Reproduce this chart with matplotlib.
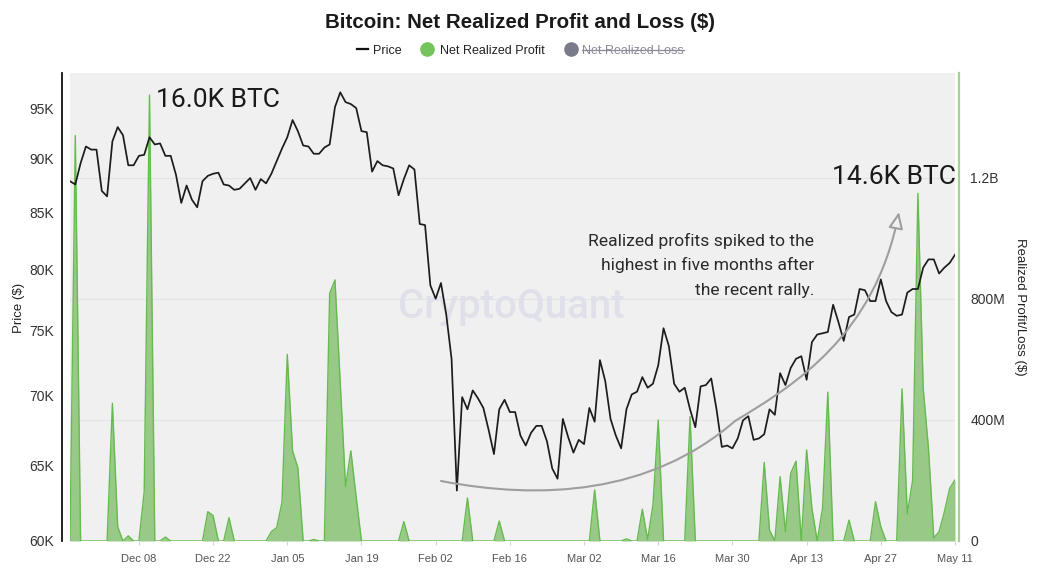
import numpy as np
import pandas as pd
import matplotlib
matplotlib.use("Agg")
import matplotlib.pyplot as plt
import matplotlib.dates as mdates
from matplotlib.path import Path
from matplotlib.patches import FancyArrowPatch
from matplotlib.lines import Line2D
from matplotlib.ticker import FixedLocator, FixedFormatter, NullLocator

plt.rcParams["font.family"] = ["Liberation Sans", "DejaVu Sans"]

# ---- data ----
dates = pd.date_range("2025-11-25", "2026-05-11", freq="D")

price_k = [
    87.9, 87.6, 89.6, 91.2, 90.9, 90.9, 87.0, 86.5, 91.7, 93.1, 92.3, 89.4, 89.4, 90.3,
    90.4, 92.1, 91.4, 91.5, 90.3, 90.3, 88.5, 85.9, 87.5, 86.2, 85.5, 87.9, 88.4, 88.6,
    88.7, 87.6, 87.5, 87.1, 87.2, 87.7, 88.2, 87.1, 88.1, 87.7, 88.6, 89.8, 91.0, 92.1,
    93.8, 92.7, 91.3, 91.2, 90.5, 90.5, 91.1, 91.4, 95.1, 96.6, 95.6, 95.4, 95.0, 92.7,
    92.6, 88.8, 89.8, 89.4, 89.3, 89.1, 86.6, 88.1, 89.4, 89.0, 84.0, 83.9, 78.7, 77.6,
    78.9, 76.3, 72.8, 63.3, 69.9, 69.0, 70.4, 69.8, 69.1, 67.5, 65.8, 69.0, 69.7, 68.8,
    68.8, 67.1, 66.4, 67.3, 67.8, 67.8, 66.7, 64.8, 64.1, 68.3, 67.0, 65.9, 66.8, 66.5,
    69.1, 68.1, 72.7, 71.1, 68.3, 67.1, 66.2, 69.0, 70.1, 70.3, 71.4, 70.6, 70.9, 72.3,
    75.2, 73.8, 70.9, 70.3, 70.6, 69.0, 67.7, 70.7, 70.8, 71.3, 69.0, 66.3, 66.4, 66.2,
    66.9, 68.2, 68.5, 66.8, 66.9, 67.2, 69.0, 68.6, 71.7, 70.8, 72.1, 72.8, 73.0, 71.2,
    74.1, 74.7, 74.8, 74.9, 77.1, 75.7, 74.2, 76.1, 76.3, 78.4, 78.3, 77.4, 77.4, 79.2,
    77.4, 76.5, 76.2, 76.3, 78.1, 78.4, 78.4, 80.2, 80.9, 80.9, 79.7, 80.2, 80.6, 81.3,
]

profit_m = [
    0, 1340, 0, 0, 0, 0, 0, 0, 455, 47, 0, 17, 0, 0,
    163, 1474, 0, 0, 13, 0, 0, 0, 0, 0, 0, 0, 97, 84,
    0, 0, 77, 0, 0, 0, 0, 0, 0, 0, 31, 44, 128, 617,
    298, 242, 0, 0, 5, 0, 0, 819, 863, 522, 180, 298, 146, 0,
    0, 0, 0, 0, 0, 0, 0, 64, 0, 0, 0, 0, 0, 0,
    0, 0, 0, 0, 0, 142, 0, 0, 0, 0, 0, 66, 0, 0,
    0, 0, 0, 0, 0, 0, 0, 0, 0, 0, 0, 0, 0, 0,
    0, 169, 0, 0, 0, 0, 0, 7, 0, 0, 105, 5, 119, 400,
    0, 0, 0, 0, 0, 411, 0, 0, 0, 0, 0, 0, 0, 0,
    0, 0, 0, 0, 0, 260, 36, 0, 213, 31, 224, 264, 0, 301,
    108, 0, 108, 492, 0, 0, 0, 69, 0, 0, 0, 0, 130, 47,
    0, 0, 0, 503, 90, 200, 1149, 505, 305, 10, 31, 97, 174, 202,
]

price_ticks = [60000, 65000, 70000, 75000, 80000, 85000, 90000, 95000]
price_labels = ["60K", "65K", "70K", "75K", "80K", "85K", "90K", "95K"]
pl_ticks = [0, 400e6, 800e6, 1200e6]
pl_labels = ["0", "400M", "800M", "1.2B"]
x_ticks = pd.date_range("2025-12-08", "2026-05-11", freq="14D")

title = "Bitcoin: Net Realized Profit and Loss ($)"
note_lines = ["Realized profits spiked to the",
              "highest in five months after",
              "the recent rally."]

price = np.array(price_k) * 1000
profit = np.array(profit_m) * 1e6

# ---- layout (pixels) ----
W, H = 1038, 571
L, R, T, B = 70, 955, 73, 541
def fx(x): return x / W
def fy(y): return 1 - y / H

fig = plt.figure(figsize=(W / 100, H / 100), dpi=100)
ax = fig.add_axes([fx(L), fy(B), (R - L) / W, (B - T) / H])
ax2 = ax.twinx()
ax.set_zorder(2)
ax2.set_zorder(1)
ax.patch.set_visible(False)
ax2.patch.set_visible(True)
ax2.patch.set_facecolor("#f0f0f0")

# profit area
ax2.fill_between(dates, profit, 0, color="#98c987", lw=0, zorder=2)
ax2.plot(dates, profit, color="#66bb4f", lw=1.0, zorder=3)
ax2.set_ylim(0, 1.547e9)
ax2.yaxis.set_major_locator(FixedLocator(pl_ticks))
ax2.yaxis.set_major_formatter(FixedFormatter(pl_labels))
ax2.grid(axis="y", color="#e3e3e3", lw=0.8)
ax2.set_axisbelow(True)
ax2.tick_params(axis="y", length=0, pad=8, labelsize=10, labelcolor="#333333")
for s in ["top", "bottom", "left"]:
    ax2.spines[s].set_visible(False)
ax2.spines["right"].set_position(("outward", 3))
ax2.spines["right"].set_color("#9fd68c")
ax2.spines["right"].set_linewidth(1.6)

# watermark
ax2.text(0.499, 0.4765, "CryptoQuant", transform=ax2.transAxes, ha="center",
         va="baseline", fontsize=29, family=["Roboto", "DejaVu Sans"],
         weight="medium", color="#e0e0ea", zorder=1)

# price line
ax.plot(dates, price, color="#1c1c1c", lw=1.25)
ax.set_yscale("log")
ax.set_ylim(60000, 98600)
ax.yaxis.set_major_locator(FixedLocator(price_ticks))
ax.yaxis.set_major_formatter(FixedFormatter(price_labels))
ax.yaxis.set_minor_locator(NullLocator())
ax.tick_params(axis="y", length=0, pad=5.5, labelsize=10, labelcolor="#333333")
ax.set_xlim(dates[0], dates[-1])
ax.set_xticks(x_ticks)
ax.xaxis.set_major_formatter(mdates.DateFormatter("%b %d"))
ax.tick_params(axis="x", length=3, color="#d4d4d4", pad=6, labelsize=8,
               labelcolor="#555555")
for s in ["top", "right", "bottom"]:
    ax.spines[s].set_visible(False)
ax.spines["left"].set_position(("outward", 6))
ax.spines["left"].set_color("#111111")
ax.spines["left"].set_linewidth(1.3)

# curved arrow (axes fraction)
verts = [(0.4192, 0.1282), (0.5311, 0.0876), (0.6554, 0.0983), (0.7514, 0.2564),
         (0.8192, 0.3333), (0.9096, 0.4402), (0.9367, 0.7030)]
codes = [Path.MOVETO] + [Path.CURVE4] * 6
arrow = FancyArrowPatch(path=Path(verts, codes), transform=ax.transAxes,
                        arrowstyle="-|>,head_length=0.5,head_width=0.22",
                        mutation_scale=20, lw=1.5, ec="#9e9e9e", fc="#f0f0f0",
                        zorder=4)
ax.add_patch(arrow)

# texts
roboto = ["Roboto", "DejaVu Sans"]
fig.text(fx(520), fy(28), title, ha="center", va="baseline", fontsize=14.8,
         weight="bold", color="#1a1a1a")
fig.text(fx(156), fy(107), "16.0K BTC", ha="left", va="baseline", fontsize=19,
         family=roboto, weight="normal", color="#1a1a1a")
fig.text(fx(832), fy(184), "14.6K BTC", ha="left", va="baseline", fontsize=19,
         family=roboto, weight="normal", color="#1a1a1a")
for k, line in enumerate(note_lines):
    fig.text(fx(814), fy(245.7 + 24.6 * k), line, ha="right", va="baseline",
             fontsize=12.6, family=roboto, weight="normal", color="#2a2a2a")

fig.text(fx(19), fy(308), "Price ($)", rotation=90, ha="center", va="center",
         fontsize=9.5, color="#222222")
fig.text(fx(1020), fy(307), "Realized Profit/Loss ($)", rotation=270,
         ha="center", va="center", fontsize=9.5, color="#222222")

# legend (manual, to allow the struck-through entry)
ly = fy(49)
fig.add_artist(Line2D([fx(357), fx(368)], [ly, ly], color="#111111", lw=1.6))
fig.text(fx(373), fy(53.5), "Price", ha="left", va="baseline", fontsize=9,
         color="#222222")
fig.add_artist(Line2D([fx(427)], [ly], marker="o", ms=9.5, color="#74c45e", lw=0))
fig.text(fx(440), fy(53.5), "Net Realized Profit", ha="left", va="baseline",
         fontsize=9, color="#222222")
fig.add_artist(Line2D([fx(571)], [ly], marker="o", ms=9.5, color="#7a7b8a", lw=0))
loss = fig.text(fx(582), fy(53.5), "Net Realized Loss", ha="left", va="baseline",
                fontsize=9, color="#8c8c98")
fig.canvas.draw()
bb = loss.get_window_extent().transformed(fig.transFigure.inverted())
fig.add_artist(Line2D([bb.x0, bb.x1], [fy(49.5), fy(49.5)], color="#8c8c98", lw=0.9))

fig.savefig("out.png", dpi=100, facecolor="white")
